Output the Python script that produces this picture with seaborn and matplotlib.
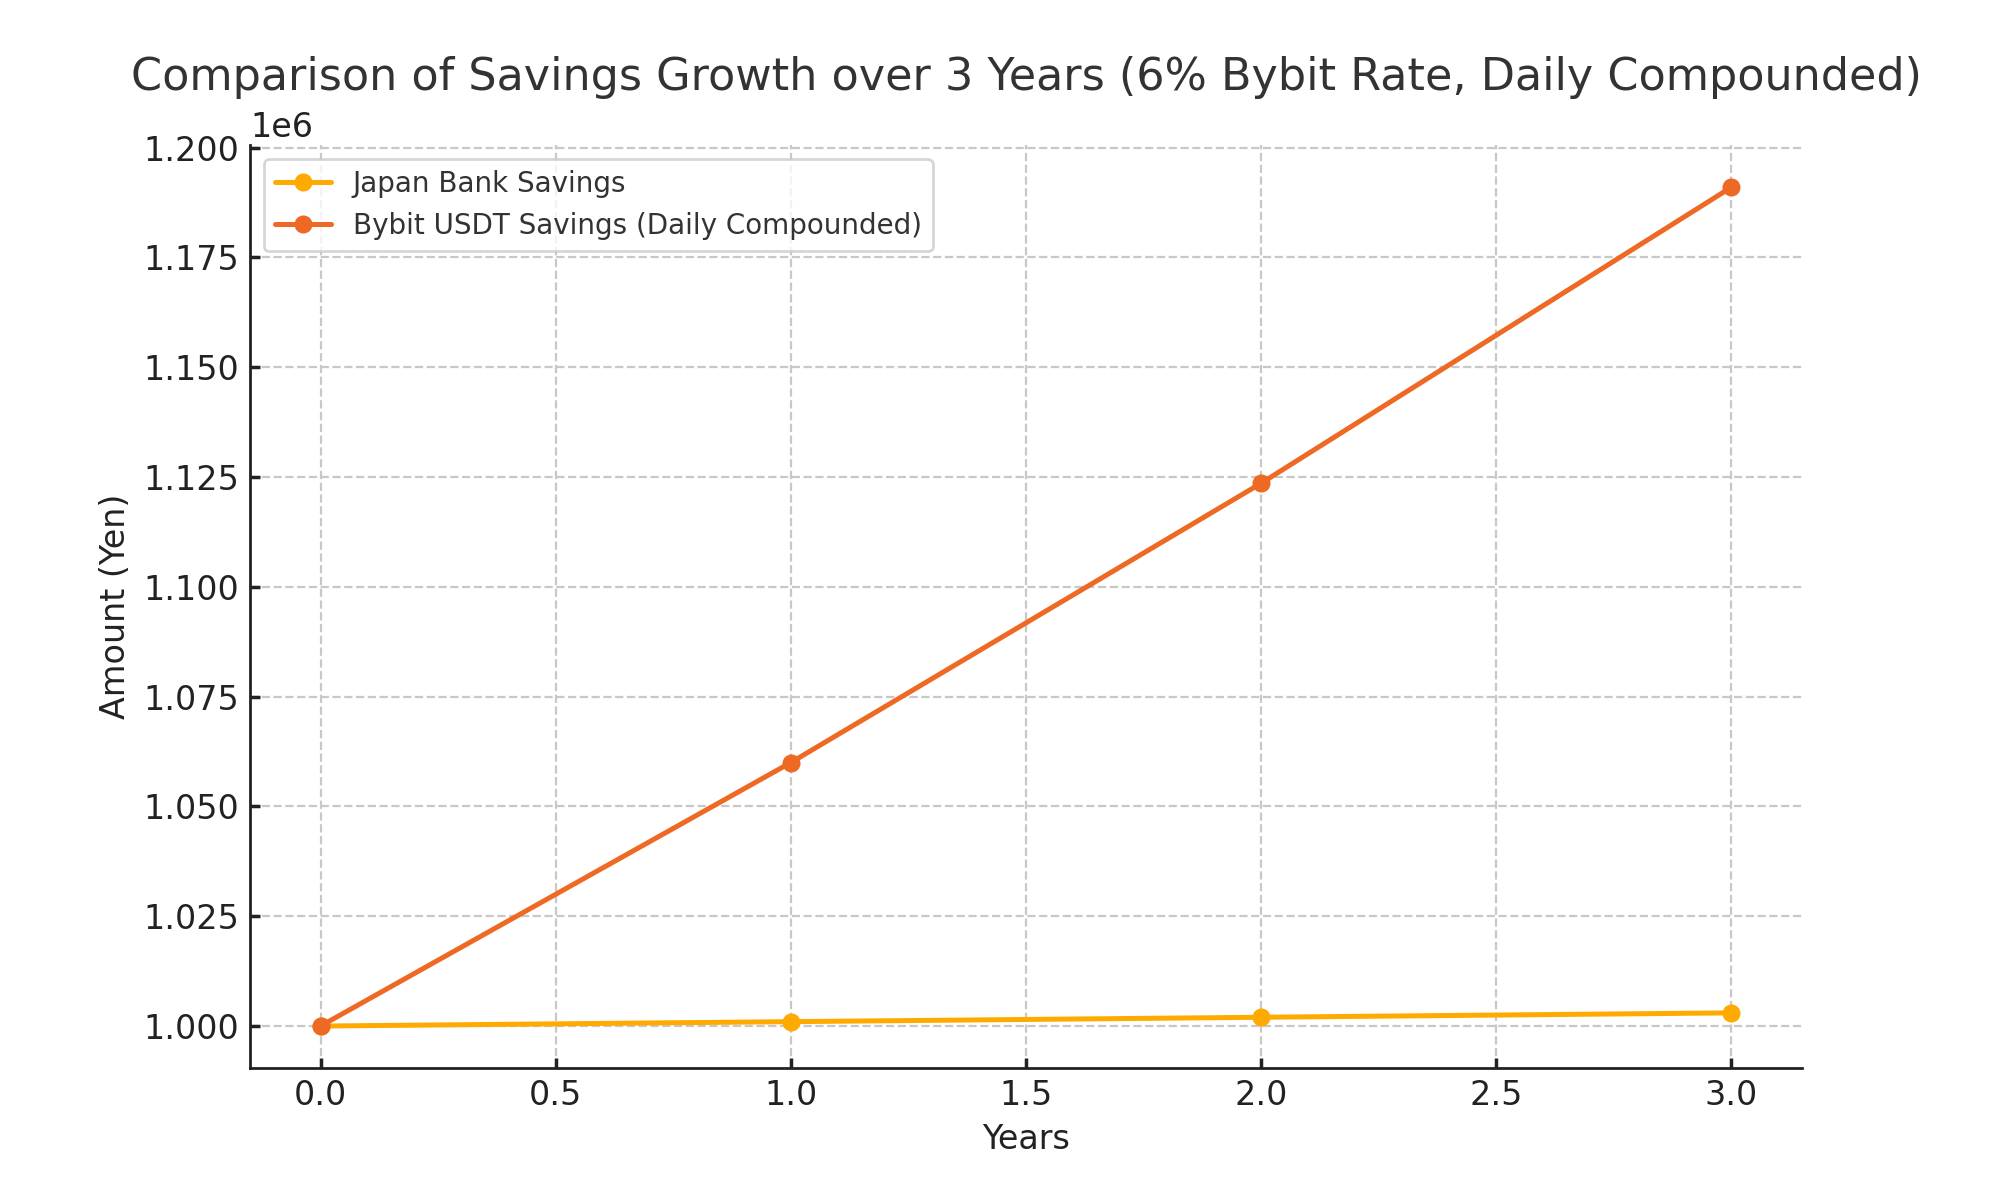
import matplotlib
matplotlib.use("Agg")
import matplotlib.pyplot as plt
import seaborn as sns
import pandas as pd

years = [0, 1, 2, 3]
japan_bank = [1000000, 1001000, 1002001, 1003003]
bybit_usdt = [1000000, 1060000, 1123600, 1191016]
series_names = ["Japan Bank Savings", "Bybit USDT Savings (Daily Compounded)"]

df = pd.concat([
    pd.DataFrame({"Years": years, "Amount": japan_bank, "Series": series_names[0]}),
    pd.DataFrame({"Years": years, "Amount": bybit_usdt, "Series": series_names[1]}),
])

sns.set_theme(style="ticks")
plt.rcParams['font.family'] = ['DejaVu Sans']
plt.rcParams['text.color'] = '#333333'

fig, ax = plt.subplots(figsize=(10, 6), dpi=200)
fig.subplots_adjust(left=0.125, right=0.901, top=0.879, bottom=0.110)

palette = {series_names[0]: "#FFAA00", series_names[1]: "#EE6A24"}
sns.lineplot(data=df, x="Years", y="Amount", hue="Series", palette=palette,
             marker="o", markersize=6.5, markeredgewidth=0, linewidth=1.8,
             ax=ax)

ax.set_title("Comparison of Savings Growth over 3 Years (6% Bybit Rate, Daily Compounded)",
             fontsize=16, color='#333333', pad=20)
ax.set_xlabel("Years", fontsize=12, color='#222222')
ax.set_ylabel("Amount (Yen)", fontsize=12, color='#222222')
ax.tick_params(axis='both', labelsize=12, colors='#222222', length=3.5,
               direction='in', pad=4)
ax.grid(True, linestyle='--', color='#c8c8c8', linewidth=0.8)
ax.yaxis.get_offset_text().set_fontsize(12)
sns.despine(ax=ax)
for s in ['left', 'bottom']:
    ax.spines[s].set_color('#222222')
    ax.spines[s].set_linewidth(1.0)

leg = ax.legend(loc='upper left', fontsize=10, frameon=True, title=None)
leg.get_frame().set_edgecolor('#cccccc')

fig.savefig("out.png", dpi=200)
